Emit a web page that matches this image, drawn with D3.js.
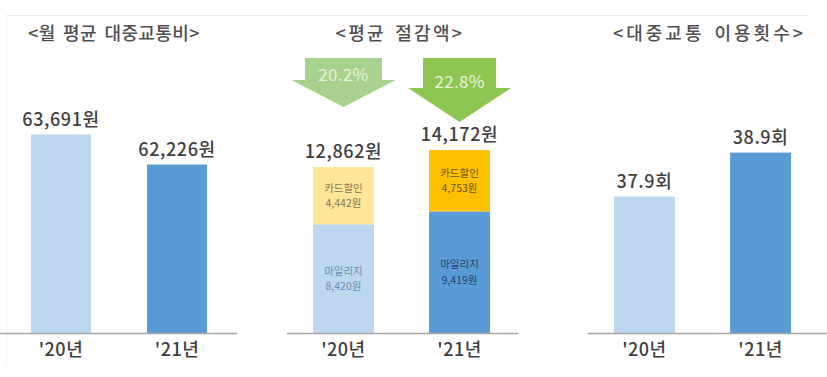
<!DOCTYPE html>
<html>
<head>
<meta charset="utf-8">
<script src="https://cdn.jsdelivr.net/npm/d3@7"></script>
<style>
	body { margin: 0; background: #fff; }
	svg { display: block; font-family: "Noto Sans CJK KR", "Noto Sans", sans-serif; }
</style>
</head>
<body>
<svg id="chart-1" width="827" height="377"></svg>
<script>
// Data
const years = ["'20년", "'21년"];
const monthlyCost = [63691, 62226];          // 월 평균 대중교통비 (원)
const mileage = [8420, 9419];                // 마일리지 (원)
const cardDiscount = [4442, 4753];           // 카드할인 (원)
const savingRate = ['20.2%', '22.8%'];       // 절감률
const rideCount = [37.9, 38.9];              // 대중교통 이용횟수 (회)
const titles = ['<월 평균 대중교통비>', '<평균 절감액>', '<대중교통 이용횟수>'];

const svg = d3.select('svg#chart-1');
const baseY = 333;
const fmt = d3.format(',');

const lightBlue = '#bdd7ee', blue = '#5b9bd5';
const barColors = [lightBlue, blue];

// faint frame
svg.append('line').attr('x1', 6).attr('x2', 808).attr('y1', 15.5).attr('y2', 15.5)
	.attr('stroke', '#ececec').attr('stroke-width', 1);
svg.append('line').attr('x1', 6.5).attr('x2', 6.5).attr('y1', 15).attr('y2', 365)
	.attr('stroke', '#f2f2f2').attr('stroke-width', 1);

function title(text, x, anchor, spacing) {
	svg.append('text')
		.attr('x', x).attr('y', 40)
		.attr('text-anchor', anchor)
		.attr('font-size', 18)
		.attr('font-weight', 500)
		.attr('letter-spacing', spacing)
		.attr('word-spacing', 3)
		.attr('fill', '#505050')
		.text(text);
}

function axis(x0, x1, xScale) {
	svg.append('line')
		.attr('x1', x0).attr('x2', x1)
		.attr('y1', baseY + 0.5).attr('y2', baseY + 0.5)
		.attr('stroke', '#a6a6a6').attr('stroke-width', 1.5);
	svg.append('g').selectAll('text').data(years)
		.enter().append('text')
			.attr('x', d => xScale(d) + xScale.bandwidth() / 2)
			.attr('y', 356)
			.attr('text-anchor', 'middle')
			.attr('font-size', 18)
			.attr('font-weight', 500)
			.attr('letter-spacing', 0.5)
			.attr('fill', '#404040')
			.text(d => d);
}

function simpleBars(values, xScale, yScale, unit, digits) {
	const g = svg.append('g');
	g.selectAll('rect').data(values)
		.enter().append('rect')
			.attr('x', (d, i) => xScale(years[i]))
			.attr('y', d => yScale(d))
			.attr('width', xScale.bandwidth())
			.attr('height', d => baseY - yScale(d))
			.attr('fill', (d, i) => barColors[i]);
	g.selectAll('text').data(values)
		.enter().append('text')
			.attr('x', (d, i) => xScale(years[i]) + xScale.bandwidth() / 2)
			.attr('y', d => yScale(d) - 9)
			.attr('text-anchor', 'middle')
			.attr('font-size', 18)
			.attr('font-weight', 500)
			.attr('letter-spacing', 0.6)
			.attr('fill', '#404040')
			.text(d => (digits ? d.toFixed(digits) : fmt(d)) + unit);
}

// ---- Panel 1: 월 평균 대중교통비
const x1 = d3.scaleBand().domain(years).range([31, 207]).paddingInner(0.483).paddingOuter(0);
const y1 = d3.scaleLinear().domain([54000, 64000]).range([baseY, baseY - 204.8]);
title(titles[0], 28, 'start', 0.4);
simpleBars(monthlyCost, x1, y1, '원', 0);
axis(0, 237, x1);

// ---- Panel 2: 평균 절감액 (stacked)
const x2 = d3.scaleBand().domain(years).range([313, 490]).paddingInner(0.475).paddingOuter(0);
const y2 = d3.scaleLinear().domain([0, 15000]).range([baseY, baseY - 193.6]);
title(titles[1], 400, 'middle', 2.3);

const stackRows = years.map((yr, i) => ({ year: yr, mileage: mileage[i], card: cardDiscount[i] }));
const stack = d3.stack().keys(['mileage', 'card'])(stackRows);
const segFill = { mileage: [lightBlue, blue], card: ['#ffe699', '#ffc000'] };
const segText = { mileage: ['#6a8db3', '#23436f'], card: ['#857650', '#6b5210'] };
const segName = { mileage: '마일리지', card: '카드할인' };

const g2 = svg.append('g');
stack.forEach(layer => {
	layer.forEach((seg, i) => {
		const x = x2(seg.data.year);
		const yTop = y2(seg[1]), yBot = y2(seg[0]);
		g2.append('rect')
			.attr('x', x).attr('y', yTop)
			.attr('width', x2.bandwidth()).attr('height', yBot - yTop)
			.attr('fill', segFill[layer.key][i]);
		const cx = x + x2.bandwidth() / 2, cy = (yTop + yBot) / 2;
		const lines = [segName[layer.key], fmt(seg.data[layer.key]) + '원'];
		lines.forEach((line, j) => {
			g2.append('text')
				.attr('x', cx).attr('y', cy - 4 + j * 15.5)
				.attr('text-anchor', 'middle')
				.attr('font-size', 10.5)
				.attr('fill', segText[layer.key][i])
				.text(line);
		});
	});
});
// totals
g2.selectAll('text.total').data(stackRows)
	.enter().append('text')
		.attr('class', 'total')
		.attr('x', d => x2(d.year) + x2.bandwidth() / 2)
		.attr('y', d => y2(d.mileage + d.card) - 9)
		.attr('text-anchor', 'middle')
		.attr('font-size', 18)
		.attr('font-weight', 500)
		.attr('letter-spacing', 0.6)
		.attr('fill', '#404040')
		.text(d => fmt(d.mileage + d.card) + '원');

// green arrows with the saving rate
const arrowShapes = [
	{ top: 58, body: 38.5, shoulder: 80, wing: 52, tip: 107, fill: '#a9d18e', text: '#e4f1db', ty: 81 },
	{ top: 58, body: 36.5, shoulder: 88, wing: 51.5, tip: 122, fill: '#8dc752', text: '#e6f4da', ty: 88 }
];
const ga = svg.append('g');
savingRate.forEach((rate, i) => {
	const s = arrowShapes[i];
	const cx = x2(years[i]) + x2.bandwidth() / 2;
	const pts = [
		[cx - s.body, s.top], [cx + s.body, s.top], [cx + s.body, s.shoulder],
		[cx + s.wing, s.shoulder], [cx, s.tip], [cx - s.wing, s.shoulder],
		[cx - s.body, s.shoulder]
	];
	ga.append('polygon').attr('points', pts.map(p => p.join(',')).join(' ')).attr('fill', s.fill);
	ga.append('text')
		.attr('x', cx).attr('y', s.ty)
		.attr('text-anchor', 'middle')
		.attr('font-size', 17)
		.attr('letter-spacing', 0.3)
		.attr('fill', s.text)
		.text(rate);
});
axis(287, 518, x2);

// ---- Panel 3: 대중교통 이용횟수
const x3 = d3.scaleBand().domain(years).range([614, 791]).paddingInner(0.475).paddingOuter(0);
const y3 = d3.scaleLinear().domain([34.8, 39]).range([baseY, baseY - 4.2 * 44]);
title(titles[2], 806, 'end', 3);
simpleBars(rideCount, x3, y3, '회', 1);
axis(588, 827, x3);
</script>
</body>
</html>
